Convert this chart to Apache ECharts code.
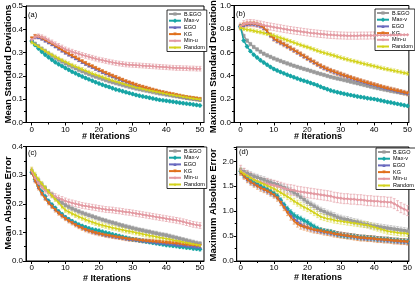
<!DOCTYPE html>
<html><head><meta charset="utf-8">
<script src="https://cdn.jsdelivr.net/npm/echarts@6/dist/echarts.min.js"></script>
<style>html,body{margin:0;padding:0;background:#fff}#c{width:415px;height:284px}</style>
</head><body><div id="c"></div>
<script>
const iterations = [0,1,2,3,4,5,6,7,8,9,10,11,12,13,14,15,16,17,18,19,20,21,22,23,24,25,26,27,28,29,30,31,32,33,34,35,36,37,38,39,40,41,42,43,44,45,46,47,48,49,50];
const methods = ['B.EGO','Max-v','EGO','KG','Min-u','Random'];
const xTickLabels = [0,10,20,30,40,50];
const xMinorTicks = [5,15,25,35,45];
const yTitles = ['Mean Standard Deviations','Maximum Standard Deviations','Mean Absolute Error','Maximum Absolute Error'];
const xTitle = '# Iterations';
const panelLetters = ['(a)','(b)','(c)','(d)'];

// Panel (a) Mean Standard Deviations
const aBEGO = [0.350,0.338,0.327,0.316,0.306,0.296,0.287,0.278,0.270,0.262, 0.254,0.247,0.240,0.233,0.226,0.220,0.214,0.208,0.202,0.197, 0.192,0.187,0.182,0.177,0.173,0.169,0.165,0.161,0.157,0.153, 0.150,0.146,0.143,0.140,0.137,0.134,0.131,0.128,0.125,0.123, 0.120,0.118,0.115,0.113,0.111,0.108,0.106,0.104,0.102,0.100, 0.098];
const aMaxV = [0.350,0.333,0.318,0.304,0.291,0.280,0.269,0.259,0.250,0.242, 0.234,0.226,0.218,0.211,0.204,0.197,0.191,0.185,0.179,0.173, 0.167,0.162,0.157,0.152,0.147,0.142,0.138,0.134,0.130,0.126, 0.122,0.118,0.115,0.112,0.109,0.106,0.103,0.100,0.097,0.095, 0.093,0.091,0.089,0.087,0.085,0.083,0.081,0.079,0.077,0.075, 0.073];
const aEGO = [0.358,0.368,0.366,0.360,0.352,0.344,0.336,0.327,0.318,0.309, 0.300,0.292,0.284,0.276,0.268,0.260,0.252,0.245,0.238,0.231, 0.224,0.217,0.211,0.205,0.199,0.193,0.187,0.181,0.175,0.170, 0.165,0.160,0.155,0.151,0.147,0.143,0.139,0.135,0.131,0.128, 0.125,0.122,0.119,0.116,0.113,0.110,0.107,0.105,0.103,0.101, 0.099];
const aKG = [0.360,0.370,0.368,0.362,0.354,0.346,0.338,0.329,0.320,0.311, 0.302,0.294,0.286,0.278,0.270,0.262,0.254,0.247,0.240,0.233, 0.226,0.219,0.212,0.206,0.200,0.194,0.188,0.182,0.176,0.171, 0.166,0.161,0.156,0.152,0.148,0.144,0.140,0.136,0.132,0.129, 0.126,0.123,0.120,0.117,0.114,0.111,0.108,0.106,0.104,0.102, 0.100];
const aMinU = [0.355,0.368,0.370,0.366,0.360,0.352,0.344,0.336,0.329,0.322, 0.314,0.309,0.304,0.299,0.295,0.290,0.286,0.282,0.278,0.274, 0.270,0.267,0.264,0.261,0.258,0.255,0.253,0.251,0.249,0.248, 0.247,0.246,0.245,0.244,0.243,0.242,0.241,0.240,0.239,0.238, 0.237,0.236,0.235,0.234,0.234,0.233,0.233,0.232,0.232,0.231, 0.231];
const aRandom = [0.345,0.335,0.326,0.316,0.307,0.298,0.290,0.282,0.274,0.267, 0.260,0.253,0.246,0.240,0.234,0.228,0.222,0.216,0.210,0.205, 0.200,0.195,0.190,0.185,0.180,0.176,0.172,0.167,0.163,0.159, 0.155,0.151,0.148,0.144,0.141,0.138,0.135,0.132,0.129,0.126, 0.123,0.120,0.118,0.115,0.113,0.110,0.108,0.105,0.103,0.101, 0.099];
const aErr = [0.008,0.006,0.007,0.008,0.010,0.008];

// Panel (b) Maximum Standard Deviations
const bBEGO = [0.820,0.740,0.700,0.670,0.645,0.625,0.605,0.588,0.574,0.561, 0.548,0.537,0.526,0.515,0.505,0.495,0.485,0.476,0.467,0.458, 0.450,0.441,0.432,0.423,0.415,0.407,0.398,0.390,0.383,0.376, 0.370,0.363,0.356,0.349,0.342,0.335,0.328,0.321,0.314,0.307, 0.300,0.294,0.288,0.282,0.276,0.270,0.265,0.260,0.255,0.250, 0.245];
const bMaxV = [0.820,0.700,0.650,0.610,0.580,0.555,0.532,0.512,0.493,0.475, 0.458,0.445,0.432,0.420,0.408,0.397,0.386,0.376,0.366,0.357, 0.348,0.338,0.328,0.318,0.305,0.294,0.284,0.274,0.266,0.259, 0.252,0.246,0.240,0.234,0.228,0.223,0.218,0.213,0.208,0.204, 0.200,0.194,0.188,0.182,0.176,0.171,0.165,0.159,0.153,0.147, 0.142];
const bEGO = [0.820,0.832,0.840,0.843,0.841,0.836,0.826,0.808,0.779,0.746, 0.716,0.699,0.684,0.668,0.652,0.636,0.619,0.602,0.585,0.567, 0.550,0.533,0.516,0.499,0.483,0.469,0.456,0.444,0.433,0.423, 0.413,0.403,0.393,0.383,0.373,0.364,0.355,0.346,0.338,0.330, 0.322,0.314,0.306,0.298,0.291,0.284,0.277,0.270,0.263,0.256, 0.249];
const bKG = [0.820,0.835,0.842,0.845,0.843,0.838,0.828,0.810,0.780,0.745, 0.715,0.698,0.683,0.667,0.651,0.635,0.618,0.601,0.584,0.566, 0.549,0.532,0.515,0.498,0.482,0.468,0.455,0.443,0.432,0.422, 0.412,0.402,0.392,0.382,0.372,0.363,0.354,0.345,0.337,0.329, 0.321,0.313,0.305,0.297,0.290,0.283,0.276,0.269,0.262,0.255, 0.248];
const bMinU = [0.820,0.840,0.848,0.850,0.848,0.843,0.837,0.831,0.825,0.820, 0.815,0.810,0.805,0.800,0.795,0.790,0.786,0.782,0.778,0.774, 0.770,0.766,0.763,0.760,0.757,0.754,0.751,0.749,0.747,0.745, 0.744,0.743,0.742,0.742,0.742,0.742,0.743,0.743,0.743,0.744, 0.744,0.745,0.745,0.746,0.746,0.747,0.748,0.748,0.749,0.750, 0.750];
const bRandom = [0.810,0.800,0.795,0.790,0.784,0.778,0.772,0.765,0.758,0.751, 0.744,0.734,0.724,0.714,0.704,0.694,0.684,0.674,0.664,0.654, 0.645,0.635,0.625,0.615,0.605,0.597,0.589,0.581,0.573,0.564, 0.555,0.547,0.539,0.531,0.524,0.517,0.510,0.503,0.496,0.489, 0.482,0.475,0.468,0.461,0.455,0.449,0.443,0.437,0.431,0.425, 0.419];
const bErr = [0.015,0.012,0.015,0.020,0.030,0.015];

// Panel (c) Mean Absolute Error
const cBEGO = [0.315,0.298,0.282,0.268,0.255,0.243,0.232,0.221,0.211,0.203, 0.195,0.189,0.183,0.178,0.173,0.168,0.164,0.160,0.156,0.152, 0.148,0.144,0.141,0.137,0.134,0.131,0.127,0.124,0.121,0.118, 0.115,0.112,0.109,0.107,0.104,0.102,0.099,0.097,0.094,0.092, 0.090,0.087,0.084,0.081,0.078,0.075,0.072,0.069,0.066,0.063, 0.061];
const cMaxV = [0.310,0.285,0.262,0.242,0.225,0.210,0.197,0.185,0.173,0.163, 0.153,0.146,0.139,0.133,0.127,0.122,0.118,0.114,0.110,0.108, 0.106,0.102,0.099,0.096,0.093,0.090,0.087,0.084,0.081,0.078, 0.076,0.074,0.072,0.070,0.068,0.066,0.064,0.062,0.060,0.058, 0.056,0.055,0.053,0.052,0.050,0.049,0.047,0.046,0.044,0.043, 0.041];
const cEGO = [0.310,0.282,0.258,0.238,0.221,0.206,0.193,0.181,0.170,0.160, 0.151,0.143,0.136,0.129,0.123,0.117,0.112,0.107,0.103,0.100, 0.097,0.094,0.091,0.089,0.087,0.085,0.083,0.081,0.079,0.077, 0.076,0.074,0.073,0.071,0.070,0.068,0.067,0.065,0.064,0.063, 0.061,0.060,0.059,0.057,0.056,0.055,0.053,0.052,0.051,0.050, 0.049];
const cKG = [0.310,0.280,0.255,0.235,0.218,0.203,0.190,0.178,0.167,0.157, 0.148,0.140,0.133,0.126,0.120,0.114,0.109,0.105,0.101,0.098, 0.095,0.093,0.090,0.088,0.086,0.084,0.082,0.080,0.078,0.076, 0.075,0.074,0.072,0.071,0.070,0.069,0.068,0.067,0.066,0.065, 0.064,0.063,0.062,0.061,0.060,0.058,0.057,0.056,0.055,0.054, 0.053];
const cMinU = [0.315,0.290,0.272,0.258,0.247,0.238,0.231,0.225,0.220,0.215, 0.210,0.206,0.203,0.200,0.197,0.194,0.192,0.190,0.188,0.186, 0.184,0.182,0.180,0.179,0.178,0.176,0.175,0.173,0.171,0.170, 0.168,0.166,0.164,0.162,0.160,0.158,0.156,0.154,0.152,0.150, 0.148,0.146,0.144,0.142,0.140,0.137,0.134,0.131,0.128,0.126, 0.124];
const cRandom = [0.320,0.302,0.285,0.270,0.256,0.242,0.229,0.216,0.204,0.190, 0.178,0.172,0.166,0.160,0.155,0.150,0.145,0.140,0.136,0.132, 0.128,0.125,0.122,0.119,0.116,0.114,0.111,0.109,0.106,0.104, 0.102,0.099,0.097,0.094,0.092,0.089,0.087,0.085,0.082,0.080, 0.078,0.076,0.073,0.071,0.069,0.066,0.064,0.062,0.059,0.057, 0.055];
const cErr = [0.007,0.006,0.006,0.007,0.010,0.008];

// Panel (d) Maximum Absolute Error
const dBEGO = [1.82,1.79,1.76,1.73,1.70,1.68,1.65,1.63,1.60,1.58, 1.55,1.53,1.50,1.47,1.44,1.41,1.37,1.33,1.28,1.23, 1.18,1.14,1.10,1.06,1.02,0.99,0.96,0.94,0.91,0.88, 0.86,0.84,0.83,0.81,0.79,0.78,0.76,0.74,0.73,0.71, 0.70,0.69,0.68,0.67,0.66,0.65,0.64,0.63,0.62,0.61, 0.60];
const dMaxV = [1.80,1.72,1.66,1.61,1.57,1.54,1.50,1.46,1.43,1.39, 1.35,1.30,1.22,1.13,1.05,0.98,0.92,0.88,0.85,0.81, 0.78,0.73,0.69,0.65,0.62,0.60,0.59,0.58,0.56,0.54, 0.52,0.51,0.50,0.50,0.49,0.48,0.47,0.47,0.46,0.46, 0.45,0.44,0.44,0.43,0.43,0.42,0.41,0.41,0.40,0.40, 0.39];
const dEGO = [1.79,1.71,1.64,1.59,1.55,1.52,1.48,1.44,1.41,1.37, 1.33,1.28,1.20,1.10,1.01,0.93,0.85,0.79,0.74,0.70, 0.68,0.65,0.63,0.62,0.60,0.59,0.58,0.56,0.55,0.54, 0.53,0.52,0.51,0.50,0.49,0.48,0.47,0.46,0.46,0.45, 0.45,0.44,0.43,0.43,0.42,0.42,0.41,0.40,0.40,0.39, 0.39];
const dKG = [1.78,1.70,1.63,1.58,1.54,1.50,1.46,1.43,1.40,1.36, 1.32,1.26,1.17,1.07,0.97,0.88,0.80,0.74,0.70,0.68, 0.66,0.64,0.62,0.61,0.60,0.58,0.57,0.56,0.54,0.53, 0.52,0.51,0.50,0.49,0.48,0.47,0.46,0.46,0.45,0.45, 0.44,0.43,0.43,0.42,0.42,0.41,0.40,0.40,0.39,0.39, 0.38];
const dMinU = [1.82,1.76,1.71,1.67,1.63,1.60,1.58,1.56,1.55,1.53, 1.52,1.50,1.48,1.46,1.44,1.43,1.42,1.40,1.39,1.38, 1.37,1.36,1.35,1.34,1.33,1.32,1.31,1.30,1.28,1.27, 1.26,1.25,1.25,1.24,1.24,1.23,1.23,1.22,1.21,1.21, 1.20,1.20,1.19,1.19,1.18,1.18,1.15,1.11,1.07,1.04, 1.01];
const dRandom = [1.80,1.75,1.71,1.67,1.63,1.60,1.57,1.54,1.51,1.48, 1.45,1.41,1.37,1.33,1.29,1.25,1.20,1.16,1.12,1.08, 1.05,1.01,0.97,0.93,0.89,0.87,0.85,0.84,0.82,0.81, 0.80,0.79,0.78,0.77,0.76,0.75,0.74,0.73,0.72,0.70, 0.68,0.66,0.64,0.62,0.60,0.59,0.58,0.57,0.56,0.56, 0.55];
const dErr = [0.06,0.05,0.05,0.06,0.10,0.06];

const panelData = [
  [aBEGO,aMaxV,aEGO,aKG,aMinU,aRandom],
  [bBEGO,bMaxV,bEGO,bKG,bMinU,bRandom],
  [cBEGO,cMaxV,cEGO,cKG,cMinU,cRandom],
  [dBEGO,dMaxV,dEGO,dKG,dMinU,dRandom]
];
const panelErr = [aErr,bErr,cErr,dErr];

// layout / style
const FONT = 'Liberation Sans, Arial, sans-serif';
const colors = ['#9a9a9a','#17a5a5','#6a6abf','#e0701c','#e39aa2','#d3d21c'];
const errColors = ['rgba(154,154,154,0.6)','rgba(23,165,165,0.6)','rgba(106,106,191,0.6)','rgba(224,112,28,0.65)','rgba(227,154,162,0.8)','rgba(211,210,28,0.6)'];
const star = 'path://M0,-10L2.9,-4L9.5,-3.1L4.7,1.5L5.9,8.1L0,5L-5.9,8.1L-4.7,1.5L-9.5,-3.1L-2.9,-4Z';
const symbols = ['rect','rect','triangle','triangle','diamond',star];
const symRot = [0,45,0,180,0,0];
const layouts = [
  {left:26, top:6, width:178, height:116.5, xmin:-1.7, xmax:51.2, ymax:0.5, interval:0.1, legend:[167,10]},
  {left:234, top:5.5, width:175, height:117, xmin:-1.9, xmax:50.4, ymax:1.0, interval:0.2, legend:[375,9]},
  {left:26, top:146.5, width:178, height:114.5, xmin:-1.7, xmax:51.2, ymax:0.4, interval:0.1, legend:[167,147]},
  {left:236.7, top:147, width:172.3, height:114, xmin:-1.2, xmax:50.4, ymax:2.287, interval:0.5, legend:[376,148]}
];
const yTitlePos = [[8,64],[213,64],[8,203],[213,205]];
const xTitlePos = [[106,137],[318,137],[107,279],[318,278]];
const letterPos = [[28,11],[236,10],[28,149],[239,148]];

const grids=[], xAxes=[], yAxes=[], series=[], legends=[], graphics=[];
layouts.forEach((L, pi) => {
  grids.push({left:L.left, top:L.top, width:L.width, height:L.height, show:true, borderColor:'#000', borderWidth:1, backgroundColor:'transparent'});
  xAxes.push({type:'value', gridIndex:pi, min:L.xmin, max:L.xmax, position:'bottom',
    axisLine:{show:true, onZero:false, lineStyle:{color:'#000', width:1}},
    axisTick:{show:true, customValues:xTickLabels, length:3, lineStyle:{color:'#000', width:1}},
    axisLabel:{customValues:xTickLabels, fontSize:8, color:'#000', margin:3, fontFamily:FONT},
    splitLine:{show:false}});
  xAxes.push({type:'value', gridIndex:pi, min:L.xmin, max:L.xmax, position:'bottom',
    axisLine:{show:false, onZero:false},
    axisTick:{show:true, customValues:xMinorTicks, length:2, lineStyle:{color:'#000', width:1}},
    axisLabel:{show:false}, splitLine:{show:false}});
  yAxes.push({type:'value', gridIndex:pi, min:0, max:L.ymax, interval:L.interval,
    axisLine:{show:true, onZero:false, lineStyle:{color:'#000', width:1}},
    axisTick:{show:true, length:3, lineStyle:{color:'#000', width:1}},
    minorTick:{show:true, splitNumber:2, length:2, lineStyle:{color:'#000', width:1}},
    axisLabel:{formatter:v=>v.toFixed(1), fontSize:8, color:'#000', margin:3, fontFamily:FONT, showMaxLabel: pi!==3},
    splitLine:{show:false}});
  const data = panelData[pi];
  data.forEach((arr, mi) => {
    const e = panelErr[pi][mi];
    const ec = errColors[mi];
    series.push({type:'custom', xAxisIndex:pi*2, yAxisIndex:pi, z:1, silent:true,
      data: iterations.map((x,k)=>[x, arr[k], e]),
      renderItem:(params, api)=>{
        const x=api.value(0), y=api.value(1), er=api.value(2);
        const p1=api.coord([x,y+er]), p2=api.coord([x,y-er]);
        const w=1.4;
        const st={stroke:ec, lineWidth:0.8};
        return {type:'group', children:[
          {type:'line', shape:{x1:p1[0],y1:p1[1],x2:p2[0],y2:p2[1]}, style:st},
          {type:'line', shape:{x1:p1[0]-w,y1:p1[1],x2:p1[0]+w,y2:p1[1]}, style:st},
          {type:'line', shape:{x1:p2[0]-w,y1:p2[1],x2:p2[0]+w,y2:p2[1]}, style:st}
        ]};
      }});
  });
  data.forEach((arr, mi) => {
    series.push({type:'line', name:methods[mi], xAxisIndex:pi*2, yAxisIndex:pi, z:2+mi,
      data: iterations.map((x,k)=>[x, arr[k]]),
      symbol:symbols[mi], symbolSize:3.5, symbolRotate:symRot[mi], showSymbol:true,
      lineStyle:{width:1.4, color:colors[mi]}, itemStyle:{color:colors[mi]}});
  });
  legends.push({left:L.legend[0], top:L.legend[1], orient:'vertical', data:methods, selectedMode:false,
    itemWidth:12, itemHeight:4, itemGap:0.7, padding:[1,2,1,1], borderColor:'#000', borderWidth:0.8, borderRadius:0,
    backgroundColor:'#fff', textStyle:{fontSize:5.5, lineHeight:6, color:'#000', fontFamily:FONT, padding:[0,0,0,-2]}});
  graphics.push({type:'text', x:yTitlePos[pi][0], y:yTitlePos[pi][1], rotation:Math.PI/2,
    style:{text:yTitles[pi], font:'bold 9.5px '+FONT, fill:'#000', textAlign:'center', textVerticalAlign:'middle'}});
  graphics.push({type:'text', x:xTitlePos[pi][0], y:xTitlePos[pi][1],
    style:{text:xTitle, font:'bold 9px '+FONT, fill:'#000', textAlign:'center', textVerticalAlign:'middle'}});
  graphics.push({type:'text', x:letterPos[pi][0], y:letterPos[pi][1],
    style:{text:panelLetters[pi], font:'7.5px '+FONT, fill:'#000', textAlign:'left', textVerticalAlign:'top'}});
});

const chart = echarts.init(document.getElementById('c'), null, {renderer:'canvas'});
chart.setOption({animation:false, backgroundColor:'#fff', grid:grids, xAxis:xAxes, yAxis:yAxes, legend:legends, series:series, graphic:graphics});
</script></body></html>
